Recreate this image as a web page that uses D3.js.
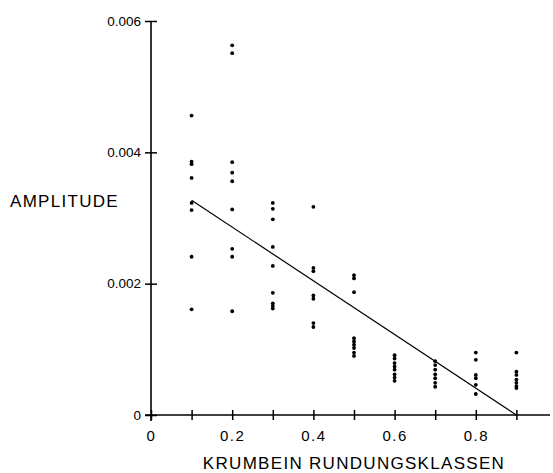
<!DOCTYPE html>
<html>
<head>
<meta charset="utf-8">
<script src="https://cdn.jsdelivr.net/npm/d3@7"></script>
<style>
  body { margin: 0; background: #fff; }
  svg text { font-family: "Liberation Sans", Arial, sans-serif; fill: #000; }
</style>
</head>
<body>
<div id="container"></div>
<script>
// data: one list of amplitudes per roundness class
var classes = [0.1, 0.2, 0.3, 0.4, 0.5, 0.6, 0.7, 0.8, 0.9];
var amp01 = [0.00456, 0.00386, 0.00382, 0.00361, 0.00323, 0.00312, 0.00241, 0.00161];
var amp02 = [0.00563, 0.00551, 0.00385, 0.00369, 0.00356, 0.00313, 0.00253, 0.00241, 0.00158];
var amp03 = [0.00323, 0.00314, 0.00298, 0.00256, 0.00227, 0.00186, 0.00170, 0.00166, 0.00162];
var amp04 = [0.00317, 0.00224, 0.00219, 0.00182, 0.00177, 0.00140, 0.00134];
var amp05 = [0.00213, 0.00208, 0.00187, 0.00117, 0.00112, 0.00107, 0.00102, 0.00095, 0.00090];
var amp06 = [0.00091, 0.00086, 0.00079, 0.00074, 0.00069, 0.00062, 0.00057, 0.00052];
var amp07 = [0.00082, 0.00076, 0.00069, 0.00062, 0.00056, 0.00049, 0.00043];
var amp08 = [0.00095, 0.00084, 0.00061, 0.00056, 0.00046, 0.00032];
var amp09 = [0.00095, 0.00066, 0.00061, 0.00054, 0.00049, 0.00044, 0.00041];
var amplitudes = [amp01, amp02, amp03, amp04, amp05, amp06, amp07, amp08, amp09];

// fitted line, endpoints
var fitX = [0.1, 0.9];
var fitY = [0.00327, 0.0];

var xTicks = [0, 0.1, 0.2, 0.3, 0.4, 0.5, 0.6, 0.7, 0.8, 0.9, 1.0];
var xLabels = [0, 0.2, 0.4, 0.6, 0.8, 1.0];
var yTicks = [0, 0.002, 0.004, 0.006];

var width = 553, height = 473;

var svg = d3.select("#container")
  .append("svg")
    .attr("width", width)
    .attr("height", height);

var x = d3.scaleLinear().domain([0, 1]).range([151, 557]);
var y = d3.scaleLinear().domain([0, 0.006]).range([415, 21]);

// axis lines
svg.append("line")
    .attr("x1", x(0) - 6).attr("x2", 550)
    .attr("y1", y(0)).attr("y2", y(0))
    .attr("stroke", "#000").attr("stroke-width", 1.6);
svg.append("line")
    .attr("x1", x(0)).attr("x2", x(0))
    .attr("y1", y(0.006)).attr("y2", y(0) + 6)
    .attr("stroke", "#000").attr("stroke-width", 1.6);

// x ticks: crosses through the axis
var fmt = function(d) { return d === 0 ? "0" : (d === 1 ? "1" : d3.format(".1f")(d)); };
svg.append("g")
    .attr("class", "xaxis")
    .attr("transform", "translate(0," + y(0) + ")")
    .call(d3.axisBottom(x).tickValues(xTicks).tickSize(5).tickPadding(10)
      .tickFormat(function(d) { return xLabels.some(function(v) { return Math.abs(v - d) < 1e-9; }) ? fmt(d) : ""; }));
svg.append("g")
    .attr("transform", "translate(0," + y(0) + ")")
    .call(d3.axisTop(x).tickValues(xTicks).tickSize(5).tickFormat(""));

// y ticks: crosses through the axis
svg.append("g")
    .attr("class", "yaxis")
    .attr("transform", "translate(" + x(0) + ",0)")
    .call(d3.axisLeft(y).tickValues(yTicks).tickSize(6).tickPadding(4)
      .tickFormat(function(d) { return d === 0 ? "0" : d3.format(".3f")(d); }));
svg.append("g")
    .attr("transform", "translate(" + x(0) + ",0)")
    .call(d3.axisRight(y).tickValues(yTicks).tickSize(6).tickFormat(""));

svg.selectAll(".domain").remove();
svg.selectAll(".tick line").attr("stroke", "#000").attr("stroke-width", 1.5);
svg.selectAll(".yaxis .tick text").style("font-size", "13.5px");
svg.selectAll(".xaxis .tick text")
    .style("font-size", "15px")
    .style("letter-spacing", "1.5px");

// points
var pts = [];
classes.forEach(function(c, i) {
  amplitudes[i].forEach(function(a) { pts.push({k: c, a: a}); });
});
svg.append("g")
  .selectAll("circle")
  .data(pts)
  .enter().append("circle")
    .attr("cx", function(d) { return x(d.k); })
    .attr("cy", function(d) { return y(d.a); })
    .attr("r", 1.9)
    .attr("fill", "#000");

// regression line
svg.append("path")
    .datum(d3.zip(fitX, fitY))
    .attr("fill", "none")
    .attr("stroke", "#000")
    .attr("stroke-width", 1.2)
    .attr("d", d3.line().x(function(d) { return x(d[0]); }).y(function(d) { return y(d[1]); }));

// axis titles
svg.append("text")
    .attr("x", 10).attr("y", 207)
    .style("font-size", "17px")
    .style("letter-spacing", "1.3px")
    .text("AMPLITUDE");

svg.append("text")
    .attr("x", 354).attr("y", 469)
    .attr("text-anchor", "middle")
    .style("font-size", "17px")
    .style("letter-spacing", "1.3px")
    .text("KRUMBEIN RUNDUNGSKLASSEN");
</script>
</body>
</html>
